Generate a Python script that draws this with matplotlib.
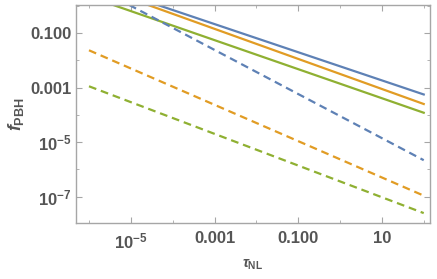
import numpy as np
import matplotlib
matplotlib.use("Agg")
import matplotlib.pyplot as plt
from matplotlib.ticker import FixedLocator, NullFormatter

plt.rcParams['font.family'] = ['Liberation Sans', 'DejaVu Sans']
plt.rcParams['mathtext.fontset'] = 'custom'
plt.rcParams['mathtext.rm'] = 'Liberation Sans:bold'
plt.rcParams['mathtext.bf'] = 'Liberation Sans:bold'
plt.rcParams['mathtext.it'] = 'Liberation Sans:italic:bold'

# data: endpoints of power-law curves (tau_NL, f_PBH)
tau = [1e-6, 1e2]
solid_blue = [10**0.88, 10**-3.25]
solid_orange = [10**0.81, 10**-3.60]
solid_green = [10**0.34, 10**-3.92]
dashed_blue = [10**0.81, 10**-5.66]
dashed_orange = [10**-1.63, 10**-6.96]
dashed_green = [10**-2.95, 10**-7.60]

xticks = [1e-5, 1e-3, 1e-1, 1e1]
xticklabels = [r'$10^{-5}$', '0.001', '0.100', '10']
xminor = [1e-6, 1e-4, 1e-2, 1e0, 1e2]
yticks = [1e-1, 1e-3, 1e-5, 1e-7]
yticklabels = ['0.100', '0.001', r'$10^{-5}$', r'$10^{-7}$']
yminor = [1e0, 1e-2, 1e-4, 1e-6, 1e-8]

blue = '#5E81B5'
orange = '#E19C24'
green = '#8FB032'

fig = plt.figure(figsize=(4.37, 2.79), dpi=100)
ax = fig.add_axes([0.173, 0.201, 0.811, 0.782])

lw = 1.6
dash = (0, (3.5, 2.2))
ax.plot(tau, solid_blue, color=blue, lw=lw)
ax.plot(tau, solid_orange, color=orange, lw=lw)
ax.plot(tau, solid_green, color=green, lw=lw)
ax.plot(tau, dashed_blue, color=blue, lw=lw, linestyle=dash)
ax.plot(tau, dashed_orange, color=orange, lw=lw, linestyle=dash)
ax.plot(tau, dashed_green, color=green, lw=lw, linestyle=dash)

ax.set_xscale('log')
ax.set_yscale('log')
ax.set_xlim(10**-6.32, 10**2.15)
ax.set_ylim(10**-7.96, 10**0.04)

ax.xaxis.set_major_locator(FixedLocator(xticks))
ax.set_xticklabels(xticklabels)
ax.xaxis.set_minor_locator(FixedLocator(xminor))
ax.xaxis.set_minor_formatter(NullFormatter())
ax.yaxis.set_major_locator(FixedLocator(yticks))
ax.set_yticklabels(yticklabels)
ax.yaxis.set_minor_locator(FixedLocator(yminor))
ax.yaxis.set_minor_formatter(NullFormatter())

fc = '#a6a6a6'
for s in ax.spines.values():
    s.set_color(fc)
    s.set_linewidth(1.0)

tc = '#555555'
ax.tick_params(which='major', direction='in', length=4, width=0.8, color=fc,
               top=True, right=True, labelsize=12, labelcolor=tc)
ax.tick_params(which='minor', direction='in', length=2.5, width=0.6, color=fc,
               top=True, right=True)
ax.tick_params(axis='x', which='major', pad=6)
ax.tick_params(axis='y', which='major', pad=3)
for lab in ax.get_xticklabels() + ax.get_yticklabels():
    lab.set_fontweight('bold')

ax.set_ylabel(r'$f_{\mathrm{PBH}}$', fontsize=13, color=tc, labelpad=3)
ax.set_xlabel(r'$\tau_{\mathrm{NL}}$', fontsize=10.5, color=tc, labelpad=5)

fig.savefig('out.png', dpi=100)
